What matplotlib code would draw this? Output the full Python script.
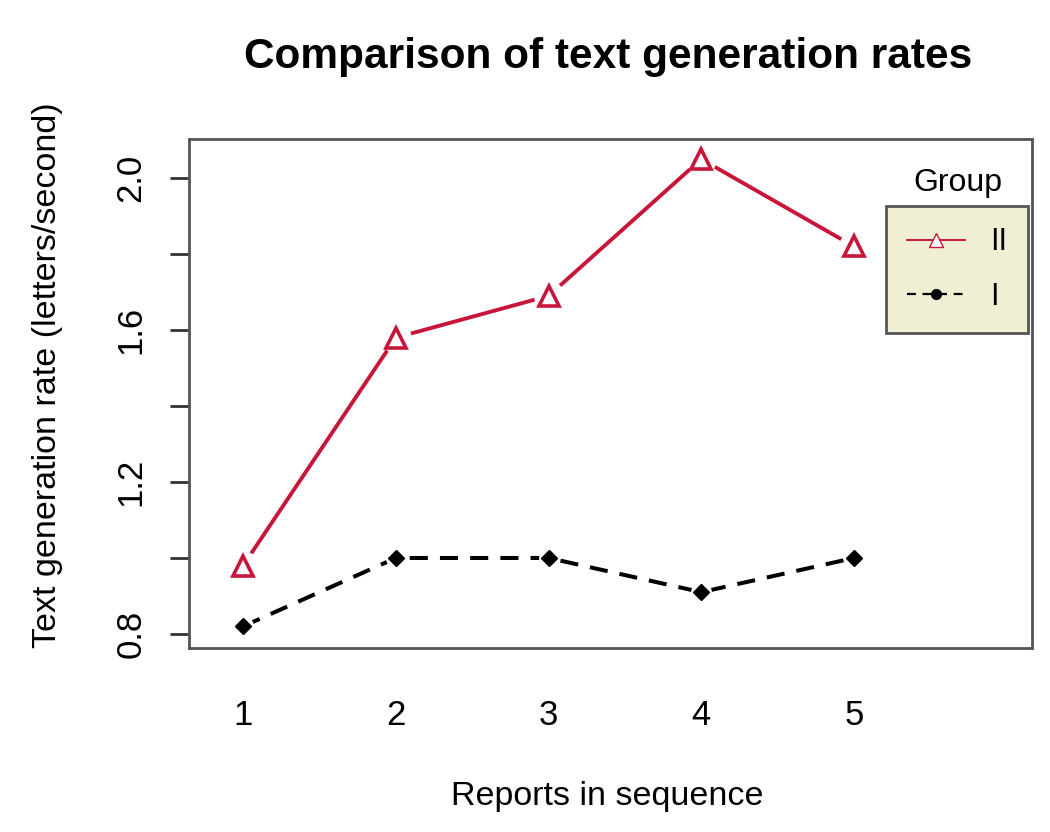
import matplotlib.pyplot as plt
import numpy as np

# data
reports = [1, 2, 3, 4, 5]
group_ii = [0.98, 1.58, 1.69, 2.05, 1.82]
group_i = [0.82, 1.00, 1.00, 0.91, 1.00]
y_ticks = [0.8, 1.0, 1.2, 1.4, 1.6, 1.8, 2.0]
y_labels = ["0.8", "", "1.2", "", "1.6", "", "2.0"]

plt.rcParams['font.family'] = ['Liberation Sans', 'DejaVu Sans']

red = "#c8163a"
W, H = 1050, 832
fig = plt.figure(figsize=(W / 100, H / 100), dpi=100)
ax = fig.add_axes([189 / W, 1 - 648 / H, (1032 - 189) / W, (648 - 139) / H])

# white halo behind markers gives the R "type=b" gaps
ax.plot(reports, group_ii, color=red, lw=2.8, zorder=2)
ax.plot(reports, group_ii, ls="none", marker="o", ms=22, mfc="white", mec="none", zorder=3)
ax.plot(reports, group_ii, ls="none", marker="^", ms=14, mfc="white", mec=red, mew=2.6, zorder=4)

ax.plot(reports, group_i, color="black", lw=2.9, ls=(0, (4.5, 3)), zorder=2)
ax.plot(reports, group_i, ls="none", marker="o", ms=15, mfc="white", mec="none", zorder=3)
ax.plot(reports, group_i, ls="none", marker="D", ms=8, color="black", zorder=4)

ax.set_xlim(0.646, 6.165)
ax.set_ylim(0.763, 2.103)

ax.set_xticks(reports)
ax.set_xticklabels([str(r) for r in reports], fontsize=25)
ax.tick_params(axis="x", length=0, pad=37)

ax.set_yticks(y_ticks)
ax.set_yticklabels(y_labels, fontsize=25, rotation=90, va="center")
ax.tick_params(axis="y", length=14, width=2, color="#333333", pad=16)

for s in ax.spines.values():
    s.set_color("#555555")
    s.set_linewidth(2)

fig.text(608 / W, 1 - 57 / H, "Comparison of text generation rates",
         ha="center", va="center", fontsize=30.5, fontweight="bold")
fig.text(607 / W, 1 - 797 / H, "Reports in sequence",
         ha="center", va="center", fontsize=24.5)
fig.text(48 / W, 1 - 375 / H, "Text generation rate (letters/second)",
         ha="center", va="center", fontsize=24.5, rotation=90)

# legend
h_ii, = ax.plot([], [], color=red, lw=1.4, marker="^", ms=10, mfc="white", mec=red)
h_i, = ax.plot([], [], color="black", lw=1.6, ls=(0, (4, 3)), marker="o", ms=7)
leg = ax.legend([h_ii, h_i], ["II", "I"], loc="upper left",
                bbox_to_anchor=((886 - 189) / 843, (648 - 206) / 509),
                borderaxespad=0, fancybox=False, framealpha=1,
                facecolor="#f0efd3", edgecolor="#555555",
                fontsize=22, handlelength=1.9, labelspacing=0.8,
                borderpad=0.7, handletextpad=0.8)
leg.get_frame().set_linewidth(2)
ax.text((958 - 189) / 843, (648 - 183) / 509, "Group", transform=ax.transAxes,
        ha="center", va="center", fontsize=23)

fig.savefig("out.png", dpi=100)
